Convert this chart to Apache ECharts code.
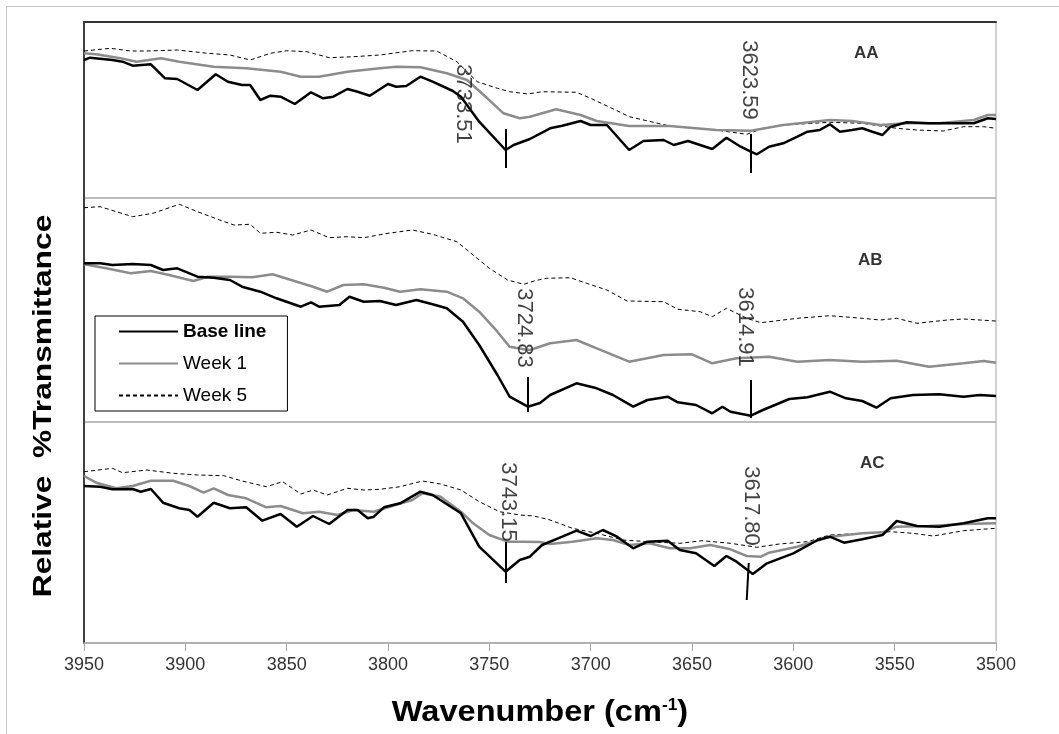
<!DOCTYPE html>
<html><head><meta charset="utf-8">
<script src="https://cdn.jsdelivr.net/npm/echarts@6/dist/echarts.min.js"></script>
<style>html,body{margin:0;padding:0;background:#fff}#c{width:1059px;height:734px}</style>
</head><body><div id="c"></div>
<script>
// ---------- data (wavenumber cm-1, relative transmittance, arbitrary units per panel) ----------
const xMin = 3500, xMax = 3950, xStep = 50;
const seriesNames = ['Base line', 'Week 1', 'Week 5'];
const panelNames = ['AA', 'AB', 'AC'];
const panelRange = [176, 224, 221];

const aaBase = [[3950,138],[3947,140.3],[3936,138],[3931,136.3],[3926,132.3],[3917,133.7],[3910,119.7],[3904,119],[3894,108],[3885,123.7],[3879,116.3],[3872,113],[3868,113],[3863,98],[3858,102.3],[3853,101.3],[3846,94],[3838,105.7],[3832,99.7],[3827,101.3],[3820,109],[3815,106.3],[3809,102.3],[3800,114],[3796,111.3],[3791,112],[3784,121.3],[3778,116.3],[3768,107],[3764,101.3],[3755,76.3],[3742,48],[3738,53],[3730,59],[3720,69.7],[3714,72.3],[3705,77],[3700,73],[3692,73],[3681,48],[3674,57],[3664,58],[3659,53],[3652,57],[3646,53],[3640,49],[3633,60.3],[3626,51.3],[3621,46.3],[3618,43.7],[3612,51.3],[3605,54.7],[3598,61.3],[3593,66.3],[3587,68],[3582,73.7],[3577,66.3],[3571,68],[3566,69.7],[3561,66.3],[3556,63],[3552,71.3],[3544,75.7],[3533,74.7],[3523,74.7],[3511,74.7],[3504,79.7],[3500,79]];
const aaWeek1 = [[3950,144.7],[3944,143.7],[3932,139.7],[3924,136.3],[3912,139.7],[3903,136.3],[3886,131.3],[3870,129.7],[3853,126.3],[3843,121.3],[3834,121.3],[3820,126.3],[3804,129.7],[3796,131.3],[3784,130.7],[3771,124.7],[3761,118],[3751,99.7],[3743,84.7],[3735,79.7],[3730,81.3],[3717,88.7],[3705,83],[3697,77],[3681,72],[3661,72],[3638,68],[3621,67.3],[3605,73],[3582,78],[3571,77],[3557,73],[3544,74.7],[3528,74.7],[3511,78],[3504,83],[3500,83]];
const aaWeek5 = [[3950,147],[3937,149.7],[3927,147],[3919,147],[3904,148],[3889,144.7],[3878,143],[3868,138],[3858,144.7],[3850,147.3],[3840,146.3],[3829,140.3],[3817,141.3],[3804,143],[3788,147.3],[3776,147],[3766,136.3],[3756,116.3],[3746,109.7],[3740,106.3],[3731,104],[3724,106.3],[3707,105.7],[3700,99.7],[3686,86.3],[3681,81.3],[3661,72],[3638,68],[3623,63.7],[3615,69.7],[3605,73],[3582,75.7],[3566,74.7],[3549,69.7],[3539,68],[3526,67],[3516,71.3],[3506,71.3],[3500,69.7]];

const abBase = [[3950,158.7],[3942,158.7],[3936,157],[3926,158],[3917,157],[3911,152],[3904,153.7],[3894,145.3],[3886,144.3],[3878,142],[3872,135.3],[3863,130.3],[3855,123.7],[3843,115.3],[3838,119.7],[3834,115.3],[3824,117],[3819,125.3],[3812,120.3],[3804,121],[3796,117],[3786,122],[3778,117.7],[3771,113.7],[3763,100.3],[3755,77],[3746,47],[3740,25.3],[3731,15.3],[3725,19],[3720,27],[3707,38.7],[3697,33.7],[3689,27],[3679,15.3],[3672,22],[3662,25.3],[3657,19.7],[3648,17],[3640,8.7],[3635,15.3],[3631,10.3],[3621,6.3],[3615,12],[3602,23],[3593,24.7],[3582,30.3],[3574,23.7],[3566,21],[3559,14.3],[3552,23.7],[3541,27],[3528,27.7],[3516,25.3],[3508,27],[3500,26]];
const abWeek1 = [[3950,157.7],[3939,153.7],[3927,148.7],[3917,151],[3908,147],[3896,141],[3889,145.3],[3878,145.3],[3867,144.7],[3857,147.7],[3845,140.3],[3837,135.3],[3830,130.3],[3822,137],[3812,137.7],[3802,134.3],[3794,130.3],[3784,132.7],[3771,130.3],[3763,123.7],[3755,110.3],[3746,90.3],[3740,75.3],[3733,72.7],[3730,72],[3720,78.7],[3707,82],[3697,73.7],[3681,60.3],[3664,67],[3650,67.7],[3640,58.7],[3628,63.7],[3612,65.3],[3598,60.3],[3582,62],[3566,60.3],[3549,61.3],[3533,55.3],[3516,58.7],[3506,61],[3500,59.3]];
const abWeek5 = [[3950,214.3],[3942,215.3],[3926,205.3],[3916,208.7],[3903,217.7],[3894,210.3],[3883,202],[3876,197],[3868,197.7],[3863,188.7],[3855,189.7],[3847,187],[3838,192],[3829,184.3],[3820,185.3],[3812,184.3],[3800,188.7],[3788,192],[3778,187.7],[3766,180.3],[3758,167],[3750,153.7],[3741,142],[3733,137.7],[3728,141],[3722,143.7],[3710,144.3],[3702,138.7],[3692,132],[3682,121],[3664,120.3],[3657,112.7],[3646,110.3],[3640,105.3],[3633,113.7],[3623,103.7],[3616,99.3],[3598,103.7],[3582,106.3],[3566,103.7],[3557,102],[3549,103.7],[3539,98.7],[3524,102],[3516,103],[3500,101]];

const acBase = [[3950,157],[3942,156.3],[3936,153.7],[3926,154],[3922,151.3],[3917,154],[3911,140.3],[3903,134.7],[3898,133],[3894,126.3],[3886,140.3],[3878,134.7],[3870,135.7],[3862,122.3],[3853,129],[3845,116.3],[3837,127],[3829,119],[3820,133],[3815,133],[3810,124.7],[3807,126.3],[3802,135.7],[3794,139.7],[3784,151.3],[3778,148],[3764,129.7],[3755,96.3],[3742,71.3],[3735,83],[3730,86.3],[3724,98],[3714,106.3],[3707,112.3],[3700,107],[3694,113],[3687,106.3],[3679,94.7],[3672,101.3],[3662,102.3],[3656,93],[3648,89.7],[3639,77],[3633,87],[3628,81.3],[3620,69],[3613,79.7],[3600,89.7],[3588,103],[3582,106.3],[3575,100.3],[3566,103.7],[3556,108],[3549,122],[3539,117],[3528,116.3],[3516,119.7],[3504,124.7],[3500,124.7]];
const acWeek1 = [[3950,167],[3944,160.3],[3934,154.7],[3926,157],[3917,162.3],[3906,162.3],[3898,157],[3891,150.3],[3886,154.7],[3879,148],[3870,144.7],[3860,135.7],[3853,137],[3842,129.7],[3834,131.3],[3825,128],[3817,133],[3807,131.3],[3798,137],[3788,143],[3783,149.7],[3774,146.3],[3764,131.3],[3758,119.7],[3750,108],[3741,101.3],[3733,101.3],[3725,101],[3720,99],[3709,101.3],[3697,104.7],[3689,103],[3681,98],[3671,99.7],[3661,94.7],[3651,94.7],[3641,98],[3631,93.7],[3623,87],[3616,86.3],[3612,90.3],[3598,96.3],[3582,106.3],[3566,109.7],[3556,110.7],[3549,116.3],[3533,117],[3516,119],[3500,119.7]];
const acWeek5 = [[3950,171.3],[3936,174.7],[3931,170.3],[3919,173],[3906,169.7],[3894,168],[3881,167.3],[3872,162],[3860,156.3],[3852,161.3],[3843,149],[3837,153],[3830,148],[3820,154.7],[3812,153],[3804,153.7],[3794,156.3],[3783,162],[3774,159],[3764,153],[3755,141.3],[3745,131.3],[3735,128],[3728,127],[3720,123],[3709,114.7],[3697,109.7],[3684,103],[3672,101.3],[3656,99.7],[3645,102.3],[3631,99.7],[3618,95.7],[3607,99],[3593,101.3],[3582,108],[3566,109.7],[3552,111.3],[3541,109.7],[3531,107],[3516,112.3],[3500,114.7]];

// peak markers: [x, yStart, xEnd, yEnd]
const aaPeakLines = [[3742,69,3742,30],[3621,64,3621,25]];
const abPeakLines = [[3731,45,3731,10],[3621,42,3621,4]];
const acPeakLines = [[3742,101,3742,60],[3622,80,3623,43]];
// peak labels: [x, y, text]
const aaPeakText = [[3763,94,'3733.51'],[3622,118,'3623.59']];
const abPeakText = [[3733,94,'3724.83'],[3624,95,'3614.91']];
const acPeakText = [[3741,141,'3743.15'],[3621,137,'3617.80']];
// panel name positions: [x, y]
const panelNamePos = [[3564,145],[3562,162],[3561,180]];

// ---------- chart ----------
const panels = [
  {base: aaBase, w1: aaWeek1, w5: aaWeek5, lines: aaPeakLines, text: aaPeakText},
  {base: abBase, w1: abWeek1, w5: abWeek5, lines: abPeakLines, text: abPeakText},
  {base: acBase, w1: acWeek1, w5: acWeek5, lines: acPeakLines, text: acPeakText}
];
const gridTops = [22, 198, 422];
const FONT = '"Liberation Sans", Arial, sans-serif';

const grids = gridTops.map((t, i) => ({
  left: 84, width: 912, top: t, height: panelRange[i],
  show: true, borderColor: '#a6a6a6', borderWidth: 1, backgroundColor: 'transparent',
  containLabel: false, outerBoundsMode: 'none'
}));

const xAxes = [0,1,2].map(i => ({
  gridIndex: i, type: 'value', min: xMin, max: xMax, interval: xStep, inverse: true,
  position: i === 0 ? 'top' : 'bottom',
  axisLine: {show: i !== 1, onZero: false, lineStyle: {color: i === 0 ? '#333' : '#a6a6a6', width: i === 0 ? 2 : 1.5}},
  axisTick: {show: i === 2, inside: false, length: 8, lineStyle: {color: '#a6a6a6', width: 1}},
  axisLabel: {show: i === 2, color: '#333', fontSize: 18, fontFamily: FONT, margin: 13,
    formatter: v => String(v)},
  splitLine: {show: false}
}));
const yAxes = [0,1,2].map(i => ({
  gridIndex: i, type: 'value', min: 0, max: panelRange[i],
  axisLine: {show: true, onZero: false, lineStyle: {color: '#404040', width: 2}},
  axisTick: {show: false}, axisLabel: {show: false}, splitLine: {show: false}
}));

const lineStyles = [
  {color: '#000', width: 2.5, type: 'solid'},
  {color: '#8c8c8c', width: 2.5, type: 'solid'},
  {color: '#000', width: 1, type: [4, 3]}
];

const series = [];
panels.forEach((p, i) => {
  [p.w5, p.w1, p.base].forEach((d, k) => {
    const idx = 2 - k;
    series.push({
      type: 'line', name: seriesNames[idx], xAxisIndex: i, yAxisIndex: i,
      data: d, symbol: 'circle', showSymbol: false, smooth: false, z: 3 + (2 - idx),
      lineStyle: lineStyles[idx], itemStyle: {color: lineStyles[idx].color},
      markLine: idx === 0 ? {
        silent: true, symbol: ['none', 'none'], animation: false,
        label: {show: false},
        lineStyle: {color: '#000', width: 2, type: 'solid'},
        data: p.lines.map(l => [{coord: [l[0], l[1]]}, {coord: [l[2], l[3]]}])
      } : undefined
    });
  });
  series.push({
    type: 'scatter', name: 'peaks' + i, xAxisIndex: i, yAxisIndex: i,
    symbolSize: 0, silent: true, z: 6,
    data: p.text.map(t => ({value: [t[0], t[1]], name: t[2]})),
    label: {show: true, position: 'inside', rotate: -90, formatter: '{b}',
      color: '#111', fontSize: 22, fontFamily: FONT, align: 'center', verticalAlign: 'middle'}
  });
  series.push({
    type: 'scatter', name: 'panel' + i, xAxisIndex: i, yAxisIndex: i,
    symbolSize: 0, silent: true, z: 6,
    data: [{value: panelNamePos[i], name: panelNames[i]}],
    label: {show: true, position: 'inside', formatter: '{b}',
      color: '#000', fontSize: 17, fontWeight: 'bold', fontFamily: FONT}
  });
});

const chart = echarts.init(document.getElementById('c'), null, {renderer: 'canvas'});
chart.setOption({
  animation: false,
  backgroundColor: '#fff',
  grid: grids, xAxis: xAxes, yAxis: yAxes, series: series,
  legend: {
    data: seriesNames, orient: 'vertical', left: 95, top: 316,
    itemWidth: 59, itemHeight: 20, itemGap: 13,
    padding: [6, 21, 6, 23],
    borderColor: '#000', borderWidth: 1, backgroundColor: '#fff',
    selectedMode: false,
    itemStyle: {opacity: 0, borderWidth: 0},
    textStyle: {fontFamily: FONT, fontSize: 19, color: '#000',
      rich: {b: {fontFamily: FONT, fontSize: 19, fontWeight: 'bold', color: '#000'}}},
    formatter: n => n === 'Base line' ? '{b|' + n + '}' : n
  },
  graphic: [
    {type: 'rect', x: 6.5, y: 6.5, shape: {width: 1200, height: 900}, z: -10, silent: true,
      style: {fill: 'none', stroke: '#c8c8c8', lineWidth: 1}},
    {type: 'text', z: 10, x: 44, y: 406, rotation: Math.PI / 2, scaleX: 1.22, scaleY: 1,
      style: {text: 'Relative  %Transmittance', font: 'bold 26px ' + FONT, fill: '#000',
        textAlign: 'center', textVerticalAlign: 'middle'}},
    {type: 'text', z: 10, x: 540, y: 713, scaleX: 1.085,
      style: {text: 'Wavenumber (cm{s|-1})', font: 'bold 30px ' + FONT, fill: '#000',
        textAlign: 'center', textVerticalAlign: 'middle',
        rich: {s: {font: 'bold 16px ' + FONT, verticalAlign: 'top', padding: [0,0,12,0]}}}}
  ]
});
</script>
</body></html>
